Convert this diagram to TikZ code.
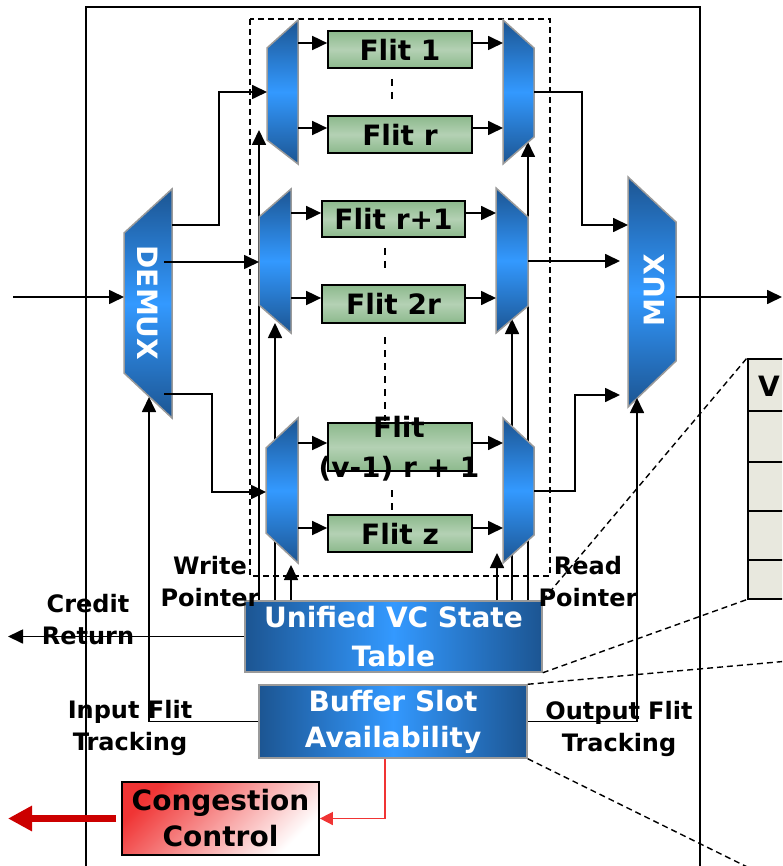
\documentclass[tikz,border=0pt]{standalone}
\usepackage{fontspec}
\setmainfont{DejaVu Sans}
\usetikzlibrary{arrows.meta}
\definecolor{bdark}{HTML}{1C5592}
\definecolor{blight}{HTML}{3399FF}
\definecolor{gdark}{HTML}{8CB98C}
\definecolor{glight}{HTML}{B4D1B4}
\definecolor{tblfill}{HTML}{E8E8DE}
\definecolor{cred}{HTML}{CC0000}
\definecolor{lred}{HTML}{F03434}
\definecolor{shapeborder}{HTML}{9A9A9A}
\tikzset{
  ln/.style={line width=1.7pt},
  arr/.style={line width=1.7pt,-{Triangle[length=15pt,width=14pt]}},
  trap/.style={top color=bdark, bottom color=bdark, middle color=blight, draw=shapeborder, line width=1.5pt},
  flitbox/.style={draw=black, line width=1.7pt, top color=gdark, bottom color=gdark, middle color=glight,
    inner sep=0pt, font=\fontsize{28}{36}\selectfont\bfseries},
  bluebox/.style={draw=shapeborder, line width=1.5pt, left color=bdark, right color=bdark, middle color=blight,
    text=white, align=center, inner sep=2pt, font=\fontsize{28}{39}\selectfont\bfseries},
  lbl/.style={align=center, inner sep=0pt, font=\fontsize{24}{32}\selectfont\bfseries},
  dsh/.style={line width=1.4pt, dash pattern=on 6pt off 4pt},
  dotsep/.style={line width=1.3pt, dash pattern=on 7pt off 6pt},
  muxtxt/.style={text=white, inner sep=0pt, font=\fontsize{28}{28}\selectfont\bfseries}
}
\begin{document}
\begin{tikzpicture}[x=1pt,y=-1pt]
\useasboundingbox (0,0) rectangle (782,866);
\clip (0,0) rectangle (782,866);

% outer box and dashed buffer box
\draw[ln] (86,890) -- (86,7) -- (700,7) -- (700,890);
\draw[dsh] (250,19) rectangle (550,576);

% boxes
\node[bluebox, minimum width=297pt, minimum height=71pt] (uvc) at (393.5,636.5) {Unified VC State\\Table};
\node[bluebox, minimum width=268pt, minimum height=73pt, font=\fontsize{28}{36}\selectfont\bfseries] (bs) at (393,721.5) {Buffer Slot\\Availability};
\node[draw=black, line width=1.7pt, top color=lred, bottom color=white, shading angle=45,
  minimum width=197pt, minimum height=73pt, align=center, inner sep=2pt,
  font=\fontsize{28}{36}\selectfont\bfseries] (cc) at (220.5,818.5) {Congestion\\Control};
\node[draw=black, fill=tblfill, line width=1.5pt, minimum width=100pt, minimum height=240pt,
  inner sep=0pt, anchor=north west] (tbl) at (747,358) {};
\foreach \yy in {411,462,511,560} \draw[ln] (tbl.west |- 0,\yy) -- (tbl.east |- 0,\yy);
\node[anchor=west, inner sep=0pt, font=\fontsize{28}{28}\selectfont\bfseries] (vtxt) at (758,386) {V};

% pointer lines (behind the switches)
\draw[arr] (259,0 |- uvc.north) -- (259,130);
\draw[arr] (275,0 |- uvc.north) -- (275,323);
\draw[arr] (291,0 |- uvc.north) -- (291,565);
\draw[arr] (497,0 |- uvc.north) -- (497,553);
\draw[arr] (512,0 |- uvc.north) -- (512,319);
\draw[arr] (528,0 |- uvc.north) -- (528,142);

% switches
\shadedraw[trap] (267,48) -- (298,20) -- (298,164) -- (267,140) -- cycle;
\shadedraw[trap] (259,217) -- (291,189) -- (291,333) -- (259,305) -- cycle;
\shadedraw[trap] (266,448) -- (298,418) -- (298,563) -- (266,533) -- cycle;
\shadedraw[trap] (503,20) -- (534,48) -- (534,137) -- (503,164) -- cycle;
\shadedraw[trap] (496,188) -- (528,217) -- (528,306) -- (496,333) -- cycle;
\shadedraw[trap] (503,418) -- (534,447) -- (534,535) -- (503,563) -- cycle;
\shadedraw[trap] (124,233) -- (172,189) -- (172,418) -- (124,373) -- cycle;
\shadedraw[trap] (628,177) -- (676,222) -- (676,361) -- (628,407) -- cycle;
\node[muxtxt, rotate=-90] (demuxl) at (148,303) {DEMUX};
\node[muxtxt, rotate=90] (muxl) at (654,290) {MUX};

% flit slots
\node[flitbox, minimum width=144pt, minimum height=37pt] (f1) at (400,49.5) {Flit 1};
\node[flitbox, minimum width=144pt, minimum height=37pt] (fr) at (400,134.5) {Flit r};
\node[flitbox, minimum width=143pt, minimum height=36pt] (fr1) at (393.5,219) {Flit r+1};
\node[flitbox, minimum width=143pt, minimum height=38pt] (f2r) at (393.5,304) {Flit 2r};
\node[flitbox, minimum width=144pt, minimum height=48pt] (fv) at (400,447) {};
\node[flitbox, minimum width=144pt, minimum height=37pt] (fz) at (400,533.5) {Flit z};
\node[align=center, inner sep=0pt, font=\fontsize{28}{40}\selectfont\bfseries] (fvt) at (399,449) {Flit\\(v-1) r + 1};

% dotted separators
\draw[dotsep] (392,79) -- (392,101);
\draw[dotsep] (385,248) -- (385,271);
\draw[dotsep] (385,337) -- (385,421);
\draw[dotsep] (392,490) -- (392,513);

% slot arrows
\draw[arr] (298,43) -- (f1.west |- 298,43);
\draw[arr] (298,128) -- (fr.west |- 298,128);
\draw[arr] (291,213) -- (fr1.west |- 291,213);
\draw[arr] (291,298) -- (f2r.west |- 291,298);
\draw[arr] (298,443) -- (fv.west |- 298,443);
\draw[arr] (298,528) -- (fz.west |- 298,528);
\draw[arr] (f1.east |- 0,43) -- (503,43);
\draw[arr] (fr.east |- 0,128) -- (503,128);
\draw[arr] (fr1.east |- 0,213) -- (496,213);
\draw[arr] (f2r.east |- 0,298) -- (496,298);
\draw[arr] (fv.east |- 0,443) -- (503,443);
\draw[arr] (fz.east |- 0,528) -- (503,528);

% demux outputs
\draw[arr] (13,297) -- (124,297);
\draw[arr] (172,225) -- (219,225) -- (219,92) -- (267,92);
\draw[arr] (164,262) -- (259,262);
\draw[arr] (164,394) -- (212,394) -- (212,492) -- (266,492);

% mux inputs and output
\draw[arr] (534,92) -- (582,92) -- (582,225) -- (628,225);
\draw[arr] (528,261) -- (620,261);
\draw[arr] (534,491) -- (575,491) -- (575,395) -- (620,395);
\draw[arr] (676,297) -- (782,297);

% tracking and credit
\draw[arr] (bs.west) -| (149,397);
\draw[arr] (bs.east) -| (637,398);
\draw[arr] (uvc.west) -- (8,636.5);

% congestion
\draw[line width=1.5pt, lred, -{Triangle[length=13pt,width=13pt]}] (385,0 |- bs.south) |- (cc.east);
\draw[line width=7pt, cred, -{Triangle[length=24pt,width=24pt]}] ([xshift=-5pt]cc.west) -- (8,818.5);

% zoom lines
\draw[dsh] (uvc.north east) -- (tbl.north west);
\draw[dsh] (uvc.south east) -- (tbl.south west);
\draw[dsh] (bs.north east) -- (800,660);
\draw[dsh] (bs.south east) -- (800,893);

% labels
\node[lbl] (wp) at (210,582) {Write\\Pointer};
\node[lbl] (rp) at (588,582) {Read\\Pointer};
\node[lbl] (cr) at (88,620) {Credit\\Return};
\node[lbl] (ift) at (130,728) {Input Flit\\Tracking};
\node[lbl] (oft) at (619,729) {Output\hspace{8pt}Flit\\Tracking};
\end{tikzpicture}
\end{document}
